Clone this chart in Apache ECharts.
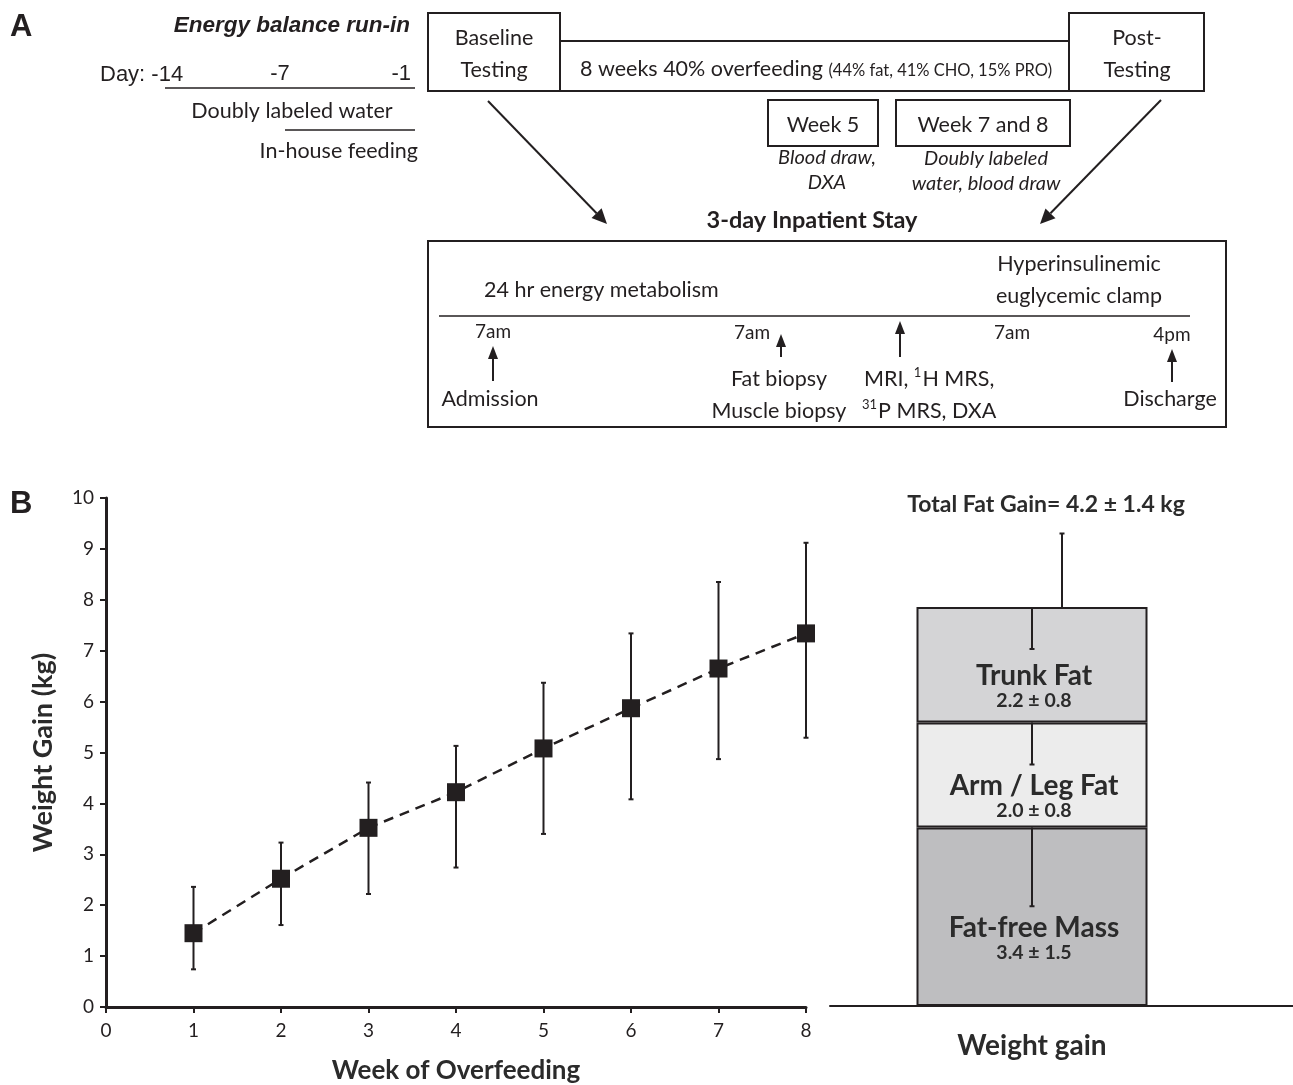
<!DOCTYPE html>
<html>
<head>
<meta charset="utf-8">
<script src="https://cdn.jsdelivr.net/npm/echarts@6/dist/echarts.min.js"></script>
<style>
html,body{margin:0;padding:0;background:#fff;}
#chart{width:1293px;height:1085px;}
</style>
</head>
<body>
<div id="chart"></div>
<script>
// ---- Data (panel B, left): weekly weight gain, mean and error-bar ends (kg)
const weeks = [1, 2, 3, 4, 5, 6, 7, 8];
const weightGain = [1.45, 2.52, 3.52, 4.22, 5.08, 5.87, 6.65, 7.34];
const errLow = [0.74, 1.61, 2.22, 2.74, 3.40, 4.08, 4.87, 5.29];
const errHigh = [2.36, 3.23, 4.41, 5.13, 6.37, 7.34, 8.35, 9.12];
const xTicks = [0, 1, 2, 3, 4, 5, 6, 7, 8];
const yTicks = [0, 1, 2, 3, 4, 5, 6, 7, 8, 9, 10];

// ---- Data (panel B, right): composition of weight gain (kg)
const barCategory = ['Weight gain'];
const components = ['Fat-free Mass', 'Arm / Leg Fat', 'Trunk Fat'];
const compMeans = [3.4, 2.0, 2.2];
const compSds = [1.5, 0.8, 0.8];
const totalFat = 4.2;
const totalFatSd = 1.4;

const INK = '#231f20';
const compColors = ['#bebec0', '#ececec', '#d4d4d6'];
const TXT = 'Lato, "Open Sans", sans-serif';
const ARIAL = '"Liberation Sans", Arial, sans-serif';
const FS = 21.5;

// ---- helpers for the study-design diagram (panel A)
function T(x, y, text, o) {
  o = o || {};
  return {
    type: 'text', x: x, y: y, z: 10,
    style: Object.assign({
      text: text, fill: INK, fontFamily: TXT, fontSize: FS,
      textAlign: 'center', textVerticalAlign: 'middle'
    }, o)
  };
}
function L(x1, y1, x2, y2, w) {
  return { type: 'line', z: 10, shape: { x1: x1, y1: y1, x2: x2, y2: y2 },
    style: { stroke: INK, lineWidth: w || 2 } };
}
function R(x, y, w, h) {
  return { type: 'rect', z: 10, shape: { x: x, y: y, width: w, height: h },
    style: { fill: 'rgba(0,0,0,0)', stroke: INK, lineWidth: 2 } };
}
function A(x1, y1, x2, y2, hl, hw) {
  hl = hl || 13; hw = hw || 6;
  const dx = x2 - x1, dy = y2 - y1, len = Math.sqrt(dx * dx + dy * dy);
  const ux = dx / len, uy = dy / len;
  const bx = x2 - ux * hl, by = y2 - uy * hl;
  const px = -uy, py = ux;
  return [
    L(x1, y1, bx, by, 2),
    { type: 'polygon', z: 10, shape: { points: [[x2, y2], [bx + px * hw, by + py * hw], [bx - px * hw, by - py * hw]] },
      style: { fill: INK } }
  ];
}

const supRich = {
  a: { fontFamily: TXT, fontSize: FS, fill: INK, lineHeight: 26 },
  s: { fontFamily: TXT, fontSize: 13, fill: INK, lineHeight: 26, verticalAlign: 'top', padding: [0, 1, 10, 0] }
};

const diagram = [].concat(
  [
    T(10, 27, 'A', { fontFamily: ARIAL, fontWeight: 'bold', fontSize: 31, textAlign: 'left' }),
    T(410, 26, 'Energy balance run-in', { fontFamily: ARIAL, fontWeight: 'bold', fontStyle: 'italic', fontSize: 22.5, textAlign: 'right' }),
    T(100, 75, 'Day: -14', { fontFamily: ARIAL, fontSize: 22, textAlign: 'left' }),
    T(280, 74, '-7', { fontFamily: ARIAL, fontSize: 22 }),
    T(411, 74, '-1', { fontFamily: ARIAL, fontSize: 22, textAlign: 'right' }),
    L(165, 88, 415, 88, 1.5),
    T(292, 111, 'Doubly labeled water'),
    L(285, 130, 415, 130, 1.5),
    T(418, 151, 'In-house feeding', { textAlign: 'right' }),

    R(428, 13, 132, 78),
    T(494, 38, 'Baseline'),
    T(494, 70, 'Testing'),
    R(560, 41, 509, 50),
    {
      type: 'text', x: 580, y: 67, z: 10,
      style: {
        text: '{a|8 weeks 40% overfeeding }{b|(44% fat, 41% CHO, 15% PRO)}',
        textAlign: 'left', textVerticalAlign: 'middle', fill: INK,
        rich: {
          a: { fontFamily: TXT, fontSize: FS, fill: INK, lineHeight: 26, verticalAlign: 'bottom' },
          b: { fontFamily: TXT, fontSize: 16.5, fill: INK, lineHeight: 26, verticalAlign: 'bottom', padding: [0, 0, 1, 0] }
        }
      }
    },
    R(1069, 13, 135, 78),
    T(1137, 38, 'Post-'),
    T(1137, 70, 'Testing'),

    R(768, 100, 110, 46),
    T(823, 125, 'Week 5'),
    R(896, 100, 174, 46),
    T(983, 125, 'Week 7 and 8'),
    T(827, 158, 'Blood draw,', { fontStyle: 'italic', fontSize: 20 }),
    T(827, 183, 'DXA', { fontStyle: 'italic', fontSize: 20 }),
    T(986, 159, 'Doubly labeled', { fontStyle: 'italic', fontSize: 20 }),
    T(986, 184, 'water, blood draw', { fontStyle: 'italic', fontSize: 20 }),

    T(812, 220, '3-day Inpatient Stay', { fontWeight: 'bold', fontSize: 23.5 }),
    R(428, 241, 798, 186),
    T(484, 290, '24 hr energy metabolism', { textAlign: 'left' }),
    T(1079, 264, 'Hyperinsulinemic'),
    T(1079, 296, 'euglycemic clamp'),
    L(439, 316, 1190, 316, 1.5),
    T(493, 332, '7am', { fontSize: 19 }),
    T(490, 399, 'Admission'),
    T(752, 333, '7am', { fontSize: 19 }),
    T(779, 379, 'Fat biopsy'),
    T(779, 411, 'Muscle biopsy'),
    {
      type: 'text', x: 864, y: 379, z: 10,
      style: { text: '{a|MRI, }{s|1}{a|H MRS,}', textAlign: 'left', textVerticalAlign: 'middle', fill: INK, rich: supRich }
    },
    {
      type: 'text', x: 862, y: 411, z: 10,
      style: { text: '{s|31}{a|P MRS, DXA}', textAlign: 'left', textVerticalAlign: 'middle', fill: INK, rich: supRich }
    },
    T(1012, 333, '7am', { fontSize: 19 }),
    T(1172, 335, '4pm', { fontSize: 19 }),
    T(1170, 399, 'Discharge'),

    T(10, 504, 'B', { fontFamily: ARIAL, fontWeight: 'bold', fontSize: 31, textAlign: 'left' }),
    T(1046, 505, 'Total Fat Gain= ' + totalFat.toFixed(1) + ' \u00b1 ' + totalFatSd.toFixed(1) + ' kg', { fontWeight: 'bold', fontSize: 23, fill: '#2b2b2b' }),
    L(1234, 1006, 1293, 1006, 2)
  ],
  A(488, 101, 607, 224, 15, 7),
  A(1161, 100, 1040, 224, 15, 7),
  A(493, 381, 493, 346, 13, 5),
  A(781, 357, 781, 334, 13, 5),
  A(900, 357, 900, 321, 13, 5),
  A(1172, 382, 1172, 349, 13, 5)
);

// stacked tops for the composition error bars
const compTops = [];
let acc = 0;
compMeans.forEach(function (m) { acc += m; compTops.push(acc); });
const compErrData = compMeans.map(function (m, i) { return [0, compTops[i], compTops[i] - compSds[i]]; });
compErrData.push([0, acc, acc + totalFatSd]);

function errRender(offsetFn, bothCaps) {
  return function (params, api) {
    const x = api.value(0);
    const a = api.coord([x, api.value(1)]);
    const b = api.coord([x, api.value(2)]);
    const off = offsetFn ? offsetFn(params.dataIndex) : 0;
    const cx = a[0] + off;
    const st = { stroke: INK, lineWidth: 2 };
    const kids = [
      { type: 'line', shape: { x1: cx, y1: a[1], x2: cx, y2: b[1] }, style: st },
      { type: 'line', shape: { x1: cx - 2.5, y1: b[1], x2: cx + 2.5, y2: b[1] }, style: st }
    ];
    if (bothCaps) kids.push({ type: 'line', shape: { x1: cx - 2.5, y1: a[1], x2: cx + 2.5, y2: a[1] }, style: st });
    return { type: 'group', children: kids };
  };
}

const barSeries = components.map(function (name, i) {
  return {
    name: name, type: 'bar', xAxisIndex: 1, yAxisIndex: 1, stack: 'wg',
    barWidth: 231, data: [compMeans[i]], z: 2,
    itemStyle: { color: compColors[i], borderColor: INK, borderWidth: 2 },
    label: {
      show: true, position: 'inside', offset: [2, 22],
      formatter: '{n|' + name + '}\n{v|' + compMeans[i].toFixed(1) + ' \u00b1 ' + compSds[i].toFixed(1) + '}',
      rich: {
        n: { fontFamily: TXT, fontWeight: 'bold', fontSize: 28, color: '#2b2b2b', lineHeight: 28 },
        v: { fontFamily: TXT, fontWeight: 'bold', fontSize: 19.5, color: '#2b2b2b', lineHeight: 22 }
      }
    }
  };
});

const chart = echarts.init(document.getElementById('chart'), null, { renderer: 'canvas' });
chart.setOption({
  animation: false,
  backgroundColor: '#fff',
  grid: [
    { left: 106, right: 487, top: 498, bottom: 78 },
    { left: 830, right: 59, top: 533.5, bottom: 79 }
  ],
  xAxis: [
    {
      gridIndex: 0, type: 'value', min: xTicks[0], max: xTicks[xTicks.length - 1], interval: 1,
      axisLine: { show: true, lineStyle: { color: INK, width: 3 } },
      axisTick: { show: true, length: 6, lineStyle: { color: INK, width: 2 } },
      splitLine: { show: false },
      axisLabel: { fontFamily: TXT, fontSize: 19, color: INK, margin: 14 },
      name: 'Week of Overfeeding', nameLocation: 'middle', nameGap: 51,
      nameTextStyle: { fontFamily: TXT, fontWeight: 'bold', fontSize: 26, color: '#2b2b2b' }
    },
    {
      gridIndex: 1, type: 'category', data: barCategory,
      axisLine: { show: true, lineStyle: { color: INK, width: 2 } },
      axisTick: { show: false },
      axisLabel: { fontFamily: TXT, fontWeight: 'bold', fontSize: 28, color: '#2b2b2b', margin: 26 }
    }
  ],
  yAxis: [
    {
      gridIndex: 0, type: 'value', min: yTicks[0], max: yTicks[yTicks.length - 1], interval: 1,
      axisLine: { show: true, lineStyle: { color: INK, width: 3 } },
      axisTick: { show: true, length: 6, lineStyle: { color: INK, width: 2 } },
      splitLine: { show: false },
      axisLabel: { fontFamily: TXT, fontSize: 19, color: INK, margin: 12 },
      name: 'Weight Gain (kg)', nameLocation: 'middle', nameGap: 49, nameRotate: 90,
      nameTextStyle: { fontFamily: TXT, fontWeight: 'bold', fontSize: 27, color: '#2b2b2b' }
    },
    { gridIndex: 1, type: 'value', min: 0, max: 9, show: false }
  ],
  graphic: diagram,
  series: [
    {
      type: 'line', xAxisIndex: 0, yAxisIndex: 0, z: 4,
      data: weeks.map(function (w, i) { return [w, weightGain[i]]; }),
      symbol: 'rect', symbolSize: 18,
      itemStyle: { color: INK },
      lineStyle: { color: INK, width: 2.5, type: [10, 7] }
    },
    {
      type: 'custom', xAxisIndex: 0, yAxisIndex: 0, z: 3,
      data: weeks.map(function (w, i) { return [w, errLow[i], errHigh[i]]; }),
      encode: { x: 0, y: [1, 2] },
      renderItem: errRender(null, true)
    }
  ].concat(barSeries, [
    {
      type: 'custom', xAxisIndex: 1, yAxisIndex: 1, z: 5,
      data: compErrData,
      encode: { x: 0, y: [1, 2] },
      renderItem: errRender(function (idx) { return idx === components.length ? 30 : 0; }, false)
    }
  ])
});
</script>
</body>
</html>
